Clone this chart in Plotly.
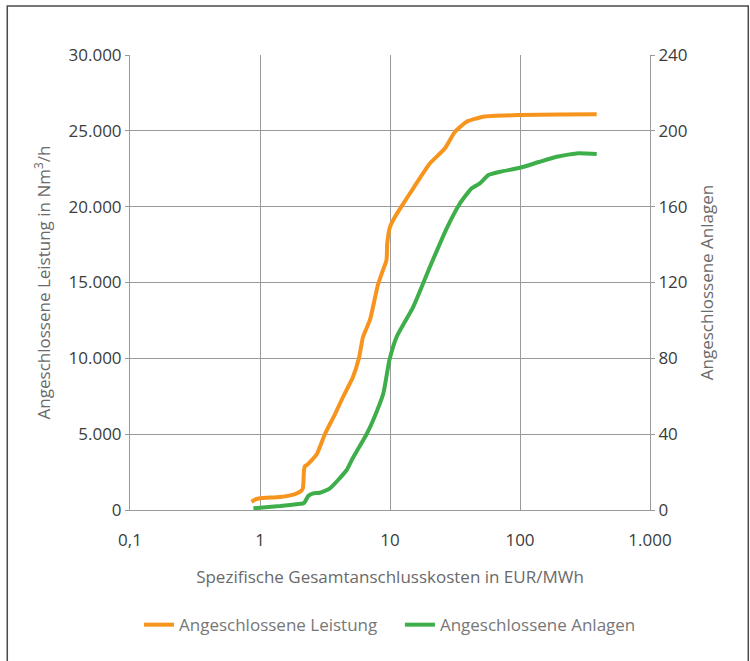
import plotly.graph_objects as go

# ---- data -------------------------------------------------------------
x_tick_vals = [0.1, 1, 10, 100, 1000]
x_tick_text = ["0,1", "1", "10", "100", "1.000"]

y_left_vals = [0, 5000, 10000, 15000, 20000, 25000, 30000]
y_left_text = ["0", "5.000", "10.000", "15.000", "20.000", "25.000", "30.000"]

y_right_vals = [0, 40, 80, 120, 160, 200, 240]
y_right_text = ["0", "40", "80", "120", "160", "200", "240"]

# Angeschlossene Leistung (Nm³/h), left axis
leistung_x = [0.86, 0.94, 1.04, 1.43, 1.86, 2.07, 2.14, 2.18, 2.22, 2.30, 2.51,
              2.74, 3.16, 3.78, 4.35, 5.19, 5.77, 6.20, 7.01, 7.40, 8.07, 8.83,
              9.4, 9.53, 10.0, 10.9, 12.3, 15.1, 20.3, 26.5, 31.6, 38.9, 52.2,
              100, 200, 389]
leistung_y = [550, 725, 790, 860, 1050, 1250, 1450, 2640, 2900, 2970, 3300,
              3690, 5010, 6330, 7450, 8770, 10020, 11410, 12530, 13380, 14840, 15820,
              16480, 17600, 18660, 19320, 20040, 21210, 22860, 23850, 24940, 25600, 25930,
              26040, 26070, 26090]

# Angeschlossene Anlagen (count), right axis
anlagen_x = [0.89, 1.43, 2.05, 2.15, 2.22, 2.35, 2.57, 2.89, 3.45, 4.64, 5.08,
             6.23, 6.62, 7.43, 8.89, 9.9, 11.26, 15.1, 20.3, 27.3, 34.6, 42.5,
             49.1, 57.2, 70.2, 100, 142, 192, 273, 389]
anlagen_y = [0.9, 2.1, 3.3, 3.5, 4.4, 7.4, 8.8, 9.1, 11.4, 21.1, 26.4,
             36.9, 40.1, 47.5, 61.6, 79.1, 91.4, 107.2, 128.3, 148.6, 161.8, 169.7,
             172.3, 176.7, 178.4, 180.5, 183.7, 186.3, 188.1, 187.8]

series_names = ["Angeschlossene Leistung", "Angeschlossene Anlagen"]

# ---- style ------------------------------------------------------------
FONT = "Open Sans"
FS = 17
ORANGE = "#F7941D"
GREEN = "#3DAE49"
GRID = "#9a9a9a"
TICK_COL = "#3c3c3c"
TITLE_COL = "#6a6a6a"

fig = go.Figure()
fig.add_trace(go.Scatter(x=leistung_x, y=leistung_y,
                         name=series_names[0] + "\u00a0\u00a0\u00a0\u00a0",
                         mode="lines", line=dict(color=ORANGE, width=4, shape="spline", smoothing=0.5),
                         yaxis="y"))
fig.add_trace(go.Scatter(x=anlagen_x, y=anlagen_y, name=series_names[1],
                         mode="lines", line=dict(color=GREEN, width=4, shape="spline", smoothing=0.5),
                         yaxis="y2"))

fig.update_layout(
    width=750, height=661,
    margin=dict(l=130, r=100, t=55, b=151, autoexpand=False),
    paper_bgcolor="white", plot_bgcolor="white",
    font=dict(family=FONT, size=FS, color=TICK_COL),
    xaxis=dict(type="log", range=[-1, 3], tickvals=x_tick_vals, ticktext=x_tick_text,
               showgrid=True, gridcolor=GRID, gridwidth=1,
               showline=True, linecolor=GRID, linewidth=1, ticks="",
               ticklabelstandoff=15,
               tickfont=dict(family=FONT, size=FS, color=TICK_COL),
               title=dict(text="Spezifische Gesamtanschlusskosten in EUR/MWh",
                          font=dict(family=FONT, size=FS, color=TITLE_COL), standoff=20)),
    yaxis=dict(range=[0, 30000], tickvals=y_left_vals, ticktext=y_left_text,
               showgrid=True, gridcolor=GRID, gridwidth=1, zeroline=False,
               showline=True, linecolor=GRID, linewidth=1,
               ticks="outside", ticklen=4, tickcolor=GRID,
               tickfont=dict(family=FONT, size=FS, color=TICK_COL),
               title=dict(text="Angeschlossene Leistung in Nm<sup>3</sup>/h",
                          font=dict(family=FONT, size=FS, color=TITLE_COL), standoff=13)),
    yaxis2=dict(range=[0, 240], tickvals=y_right_vals, ticktext=y_right_text,
                overlaying="y", side="right", showgrid=False, zeroline=False,
                showline=True, linecolor=GRID, linewidth=1,
                ticks="outside", ticklen=4, tickcolor=GRID,
                tickfont=dict(family=FONT, size=FS, color=TICK_COL),
                title=dict(text="Angeschlossene Anlagen",
                           font=dict(family=FONT, size=FS, color=TITLE_COL), standoff=14)),
    legend=dict(orientation="h", x=0.5, xanchor="center", y=-0.253, yanchor="middle",
                font=dict(family=FONT, size=FS, color="#777777"),
                bgcolor="rgba(0,0,0,0)"),
    shapes=[dict(type="rect", xref="paper", yref="paper",
                 x0=-0.236, x1=1.189, y0=-0.40, y1=1.1077,
                 line=dict(color="#4a4a4a", width=1.5), fillcolor="rgba(0,0,0,0)", layer="below")],
)

fig.write_html("out.html", config={"displayModeBar": False},
               post_script="document.body.style.margin='0';")
